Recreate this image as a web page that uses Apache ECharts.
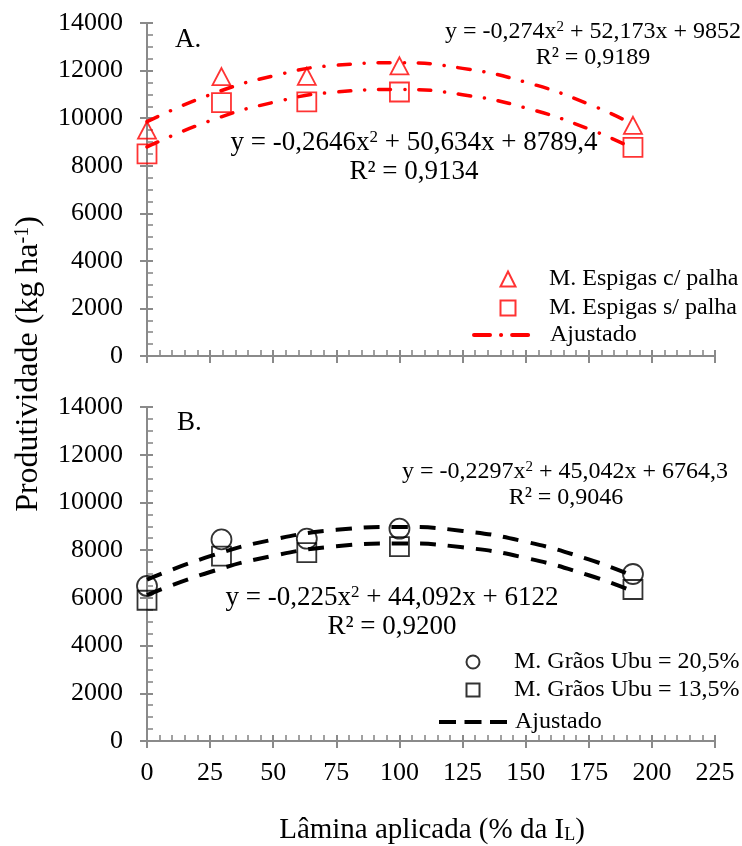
<!DOCTYPE html>
<html>
<head>
<meta charset="utf-8">
<script src="https://cdn.jsdelivr.net/npm/echarts@6/dist/echarts.min.js"></script>
<style>html,body{margin:0;padding:0;background:#fff}#c{width:742px;height:846px}</style>
</head>
<body>
<div id="c"></div>
<script>
// ---- data ----
const laminaX = [0, 29.5, 63.3, 100, 192.5];
const espigasComPalha = [9500, 11750, 11760, 12200, 9700];
const espigasSemPalha = [8500, 10650, 10680, 11100, 8770];
const graosUbu205 = [6500, 8450, 8480, 8900, 7000];
const graosUbu135 = [5900, 7750, 7900, 8150, 6350];

const fitX = [0, 25, 50, 75, 100, 125, 150, 175, 192.5];
const fitEspigasCom = [9852, 10985, 11776, 12224, 12329, 12092, 11513, 10591, 9742];
const fitEspigasSem = [8789, 9890, 10660, 11099, 11207, 10984, 10431, 9547, 8731];
const fitGraos205 = [6764, 7747, 8442, 8850, 8972, 8806, 8352, 7612, 6923];
const fitGraos135 = [6122, 7084, 7764, 8163, 8281, 8118, 7673, 6948, 6272];

const xTicks = {min: 0, max: 225, interval: 25};
const yTicks = {min: 0, max: 14000, interval: 2000};

const nameA1 = 'M. Espigas c/ palha';
const nameA2 = 'M. Espigas s/ palha';
const nameB1 = 'M. Grãos Ubu = 20,5%';
const nameB2 = 'M. Grãos Ubu = 13,5%';
const fitNameA = 'Ajustado A';
const fitNameB = 'Ajustado B';

// ---- styling ----
const FONT = 'Liberation Serif, Times New Roman, serif';
const AX = '#8a8a8a';
const RED = '#ff0000';
const BLK = '#000000';

const pair = (xs, ys) => xs.map((x, i) => [x, ys[i]]);

const gridA = {left: 147, top: 23, width: 568, height: 333};
const gridB = {left: 147, top: 407, width: 568, height: 334};

function mainAxis(isX, gridIndex, showLabel) {
  const t = isX ? xTicks : yTicks;
  return {
    type: 'value', gridIndex, min: t.min, max: t.max, interval: t.interval,
    axisLine: {show: true, onZero: false, lineStyle: {color: AX, width: 2}},
    axisTick: {show: true, inside: true, length: 6, lineStyle: {color: AX, width: 2}},
    minorTick: {show: true, splitNumber: isX ? 5 : 4, length: 6, lineStyle: {color: AX, width: 1.6}},
    splitLine: {show: false}, minorSplitLine: {show: false},
    axisLabel: {show: showLabel, margin: isX ? 19 : 24, fontSize: 26, fontFamily: FONT, color: '#000',
      formatter: v => String(v)}
  };
}
function overlayAxis(isX, gridIndex) {
  const t = isX ? xTicks : yTicks;
  return {
    type: 'value', gridIndex, min: t.min, max: t.max, interval: t.interval,
    axisLine: {show: false, onZero: false},
    axisTick: {show: true, inside: false, length: 7, lineStyle: {color: AX, width: 2}},
    minorTick: {show: false}, splitLine: {show: false},
    axisLabel: {show: false}
  };
}

function scatter(name, sym, size, color, xi, ys) {
  return {
    type: 'scatter', name, xAxisIndex: xi, yAxisIndex: xi,
    symbol: sym, symbolSize: size, z: 3,
    itemStyle: {color: 'rgba(255,255,255,0)', borderColor: color, borderWidth: 1.8},
    data: pair(laminaX, ys)
  };
}
function fit(name, color, dash, width, xi, ys) {
  return {
    type: 'line', name, xAxisIndex: xi, yAxisIndex: xi, smooth: true,
    symbol: 'none', showSymbol: false, z: 4,
    lineStyle: {color, width, type: dash, cap: dash.length > 2 ? 'round' : 'butt'},
    itemStyle: {color},
    data: pair(fitX, ys)
  };
}

const lgText = {fontSize: 24, fontFamily: FONT, color: '#000', lineHeight: 24};
function lg(name, left, cy, w, h, padLeft, extra) {
  return Object.assign({
    data: [name], left, top: cy - 12, padding: 0, itemWidth: w, itemHeight: h,
    selectedMode: false, symbolKeepAspect: true,
    textStyle: Object.assign({}, lgText, {padding: [0, 0, 0, padLeft]}),
    formatter: n => n.indexOf('Ajustado') === 0 ? 'Ajustado' : n
  }, extra || {});
}

function txt(text, x, y, size, align) {
  return {
    type: 'text', x, y, z: 10,
    style: {
      text, fill: '#000', fontSize: size, fontFamily: FONT,
      align: align || 'center', verticalAlign: 'middle',
      rich: {s: {fontSize: Math.round(size * 0.62), fontFamily: FONT, verticalAlign: 'top', fill: '#000'}}
    }
  };
}

const noDot = {itemStyle: {color: 'rgba(0,0,0,0)', borderWidth: 0, opacity: 0}};

const option = {
  backgroundColor: '#fff',
  animation: false,
  grid: [
    Object.assign({outerBoundsMode: 'none'}, gridA),
    Object.assign({outerBoundsMode: 'none'}, gridA),
    Object.assign({outerBoundsMode: 'none'}, gridB),
    Object.assign({outerBoundsMode: 'none'}, gridB)
  ],
  xAxis: [mainAxis(true, 0, false), overlayAxis(true, 1), mainAxis(true, 2, true), overlayAxis(true, 3)],
  yAxis: [mainAxis(false, 0, true), overlayAxis(false, 1), mainAxis(false, 2, true), overlayAxis(false, 3)],
  legend: [
    lg(nameA1, 499.5, 279, 15, 15, 28.5),
    lg(nameA2, 499.5, 308, 15, 15, 28.5),
    lg(fitNameA, 472, 335, 56, 15, 15, Object.assign({
      lineStyle: {color: RED, width: 4, type: [16, 11, 0.1, 11], cap: 'round'}}, noDot)),
    lg(nameB1, 465.5, 662, 13, 13, 29.5),
    lg(nameB2, 465.5, 690, 13, 13, 29.5),
    lg(fitNameB, 437, 722, 68, 13, 3, Object.assign({
      lineStyle: {color: BLK, width: 4, type: [17, 8.5], cap: 'butt'}}, noDot))
  ],
  series: [
    scatter(nameA1, 'triangle', [18, 17], RED, 0, espigasComPalha),
    scatter(nameA2, 'rect', 19, RED, 0, espigasSemPalha),
    fit(fitNameA, RED, [12, 14, 0.1, 14], 3.5, 0, fitEspigasCom),
    fit(fitNameA, RED, [12, 14, 0.1, 14], 3.5, 0, fitEspigasSem),
    scatter(nameB1, 'circle', 20, BLK, 2, graosUbu205),
    scatter(nameB2, 'rect', 19, BLK, 2, graosUbu135),
    fit(fitNameB, BLK, [16, 12], 4, 2, fitGraos205),
    fit(fitNameB, BLK, [16, 12], 4, 2, fitGraos135)
  ],
  graphic: [
    txt('A.', 175, 40, 27, 'left'),
    txt('B.', 177, 423, 27, 'left'),
    txt('y = -0,274x{s|2} + 52,173x + 9852', 593, 32, 24),
    txt('R² = 0,9189', 593, 58, 24),
    txt('y = -0,2646x{s|2} + 50,634x + 8789,4', 414, 143, 27),
    txt('R² = 0,9134', 414, 172, 27),
    txt('y = -0,2297x{s|2} + 45,042x + 6764,3', 565, 472, 24),
    txt('R² = 0,9046', 566, 498, 24),
    txt('y = -0,225x{s|2} + 44,092x + 6122', 392, 598, 27),
    txt('R² = 0,9200', 392, 627, 27),
    {
      type: 'text', x: 29, y: 364, rotation: Math.PI / 2, z: 10,
      style: {
        text: '{a|Produtividade (kg ha}{s|-1}{a|)}', align: 'center', verticalAlign: 'middle',
        fill: '#000', fontFamily: FONT, fontSize: 32,
        rich: {a: {fontSize: 32, fontFamily: FONT, fill: '#000'}, s: {fontSize: 20, fontFamily: FONT, fill: '#000', verticalAlign: 'top'}}
      }
    },
    {
      type: 'text', x: 432, y: 830, z: 10,
      style: {
        text: '{a|Lâmina aplicada (% da I}{s|L}{a|)}', align: 'center', verticalAlign: 'middle',
        fill: '#000', fontFamily: FONT, fontSize: 29,
        rich: {a: {fontSize: 29, fontFamily: FONT, fill: '#000'}, s: {fontSize: 18, fontFamily: FONT, fill: '#000', verticalAlign: 'bottom'}}
      }
    }
  ]
};

const chart = echarts.init(document.getElementById('c'), null, {renderer: 'canvas'});
chart.setOption(option);
</script>
</body>
</html>
